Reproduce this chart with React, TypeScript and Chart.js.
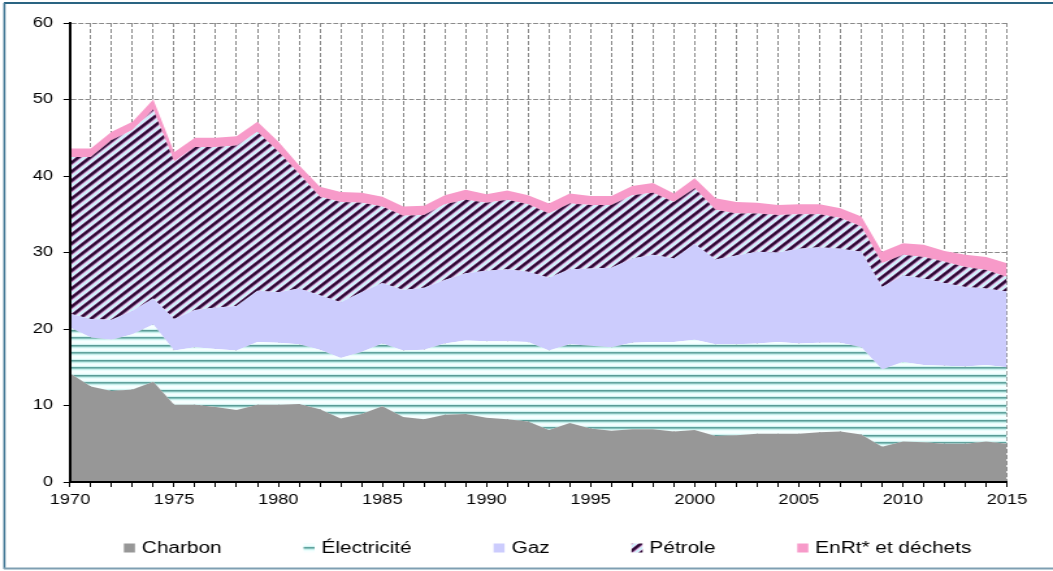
import React, { useEffect, useRef } from "react";
import { Chart, registerables } from "chart.js";

Chart.register(...registerables);

// ---------- data ----------
const years = [
  "1970","1971","1972","1973","1974","1975","1976","1977","1978","1979",
  "1980","1981","1982","1983","1984","1985","1986","1987","1988","1989",
  "1990","1991","1992","1993","1994","1995","1996","1997","1998","1999",
  "2000","2001","2002","2003","2004","2005","2006","2007","2008","2009",
  "2010","2011","2012","2013","2014","2015",
];

const charbon = [
  14.2, 12.5, 11.9, 12.1, 13.1, 10.1, 10.1, 9.8, 9.4, 10.1,
  10.1, 10.2, 9.5, 8.3, 8.9, 9.9, 8.5, 8.2, 8.8, 8.9,
  8.4, 8.2, 7.9, 6.8, 7.7, 7.0, 6.7, 6.9, 6.9, 6.6,
  6.8, 6.0, 6.1, 6.3, 6.3, 6.3, 6.5, 6.6, 6.2, 4.6,
  5.3, 5.2, 5.0, 5.0, 5.3, 5.0,
];

const electricite = [
  6.0, 6.4, 6.7, 7.2, 7.5, 7.1, 7.5, 7.6, 7.8, 8.2,
  8.1, 7.8, 7.8, 7.9, 8.1, 8.2, 8.7, 9.1, 9.3, 9.6,
  10.0, 10.2, 10.4, 10.4, 10.3, 10.8, 10.9, 11.3, 11.4, 11.7,
  11.8, 12.0, 11.9, 11.8, 12.0, 11.8, 11.7, 11.6, 11.4, 10.1,
  10.4, 10.1, 10.2, 10.1, 10.0, 10.0,
];

const gaz = [
  1.8, 2.4, 2.6, 3.1, 3.4, 4.1, 4.9, 5.4, 5.8, 6.7,
  6.6, 7.3, 7.1, 7.3, 7.8, 7.9, 7.9, 8.1, 8.3, 8.8,
  9.2, 9.4, 9.2, 9.5, 9.8, 10.1, 10.4, 11.0, 11.4, 10.9,
  12.5, 11.1, 11.6, 12.0, 11.7, 12.4, 12.5, 12.3, 12.5, 10.8,
  11.3, 11.3, 10.8, 10.4, 10.0, 9.9,
];

const petrole = [
  20.5, 21.2, 23.5, 23.6, 24.7, 20.6, 21.3, 21.0, 21.0, 20.8,
  18.4, 15.0, 12.9, 13.1, 11.7, 10.0, 9.7, 9.5, 9.9, 9.6,
  8.9, 9.1, 8.8, 8.4, 8.6, 8.3, 8.2, 8.3, 8.1, 7.4,
  7.3, 6.5, 5.5, 5.0, 4.9, 4.5, 4.3, 4.0, 3.3, 3.1,
  2.7, 2.8, 2.8, 2.6, 2.4, 1.9,
];

const enrt = [
  1.1, 1.1, 1.1, 1.1, 1.3, 1.2, 1.2, 1.2, 1.2, 1.3,
  1.3, 1.1, 1.3, 1.3, 1.3, 1.3, 1.2, 1.2, 1.2, 1.3,
  1.1, 1.2, 1.2, 1.3, 1.3, 1.2, 1.2, 1.2, 1.3, 1.1,
  1.3, 1.5, 1.5, 1.4, 1.3, 1.3, 1.3, 1.3, 1.3, 1.5,
  1.5, 1.6, 1.4, 1.6, 1.7, 1.8,
];

const seriesNames = ["Charbon", "Électricité", "Gaz", "Pétrole", "EnRt* et déchets"];
const yMin = 0;
const yMax = 60;
const yStep = 10;
const labelEvery = 5;

// ---------- layout ----------
const W = 1053;
const H = 571;
const STRETCH = 1.3;
const IW = Math.round(W / STRETCH); // internal canvas width
const FONT = '"Liberation Sans", Arial, Helvetica, sans-serif';

function makePattern(
  ctx: CanvasRenderingContext2D,
  w: number,
  h: number,
  fn: (x: number, y: number) => number[]
): CanvasPattern | string {
  const c = document.createElement("canvas");
  c.width = w;
  c.height = h;
  const cx = c.getContext("2d");
  if (!cx) return "#ccc";
  const img = cx.createImageData(w, h);
  for (let y = 0; y < h; y++) {
    for (let x = 0; x < w; x++) {
      const [r, g, b] = fn(x, y);
      const i = (y * w + x) * 4;
      img.data[i] = r;
      img.data[i + 1] = g;
      img.data[i + 2] = b;
      img.data[i + 3] = 255;
    }
  }
  cx.putImageData(img, 0, 0);
  return ctx.createPattern(c, "repeat") || "#ccc";
}

const elecRows: number[][] = [
  [90, 155, 150],
  [135, 193, 188],
  [200, 238, 235],
  [233, 253, 252],
  [247, 255, 255],
  [240, 254, 254],
  [211, 243, 241],
  [96, 162, 157],
  [135, 193, 188],
  [200, 238, 235],
  [233, 253, 252],
  [247, 255, 255],
  [247, 255, 255],
  [240, 254, 254],
  [211, 243, 241],
];

const petRows: number[][] = [
  [42, 8, 48],
  [48, 12, 54],
  [78, 34, 84],
  [170, 130, 178],
  [230, 206, 238],
  [205, 242, 252],
  [205, 242, 252],
  [220, 226, 247],
  [118, 76, 126],
];

export default function App() {
  const ref = useRef<HTMLCanvasElement>(null);

  useEffect(() => {
    const canvas = ref.current;
    if (!canvas) return;
    const ctx = canvas.getContext("2d");
    if (!ctx) return;

    const P = petRows.length;
    const elecPat = makePattern(ctx, 1, elecRows.length, (_x, y) => elecRows[y]);
    const petPat = makePattern(ctx, P, P, (x, y) => petRows[(x + y) % P]);
    const colors: (string | CanvasPattern)[] = ["#979797", elecPat, "#ccccfd", petPat, "#f79ac9"];
    const values = [charbon, electricite, gaz, petrole, enrt];

    const framePlugin = {
      id: "frame",
      afterDraw(chart: any) {
        const c = chart.ctx as CanvasRenderingContext2D;
        c.save();
        // outer frame
        c.lineWidth = 2;
        c.strokeStyle = "#2a6482";
        c.beginPath();
        c.moveTo(3, 3);
        c.lineTo(IW, 3);
        c.stroke();
        c.lineWidth = 1.6;
        c.strokeStyle = "#3f7593";
        c.beginPath();
        c.moveTo(3.4, 3);
        c.lineTo(3.4, 569);
        c.stroke();
        c.lineWidth = 2;
        c.strokeStyle = "#7f9fb2";
        c.beginPath();
        c.moveTo(3, 568.5);
        c.lineTo(IW, 568.5);
        c.stroke();

        // legend
        const area = chart.chartArea;
        c.font = `16px ${FONT}`;
        c.textBaseline = "middle";
        c.textAlign = "left";
        const box = 8.5;
        const gap = 13.8;
        const pad = 63;
        const widths = seriesNames.map((n) => c.measureText(n).width);
        const total =
          widths.reduce((a, w) => a + gap + w, 0) + pad * (seriesNames.length - 1);
        const cy = 548;
        let x = (area.left + area.right) / 2 + 7 - total / 2;
        seriesNames.forEach((n, i) => {
          c.fillStyle = colors[i] as any;
          c.fillRect(x, cy - 4.5, box, 9);
          c.fillStyle = "#000";
          c.fillText(n, x + gap, cy + 0.5);
          x += gap + widths[i] + pad;
        });
        c.restore();
      },
    };

    const chart = new Chart(canvas, {
      type: "line",
      data: {
        labels: years,
        datasets: seriesNames.map((name, i) => ({
          label: name,
          data: values[i],
          backgroundColor: colors[i] as any,
          borderColor: "rgba(0,0,0,0)",
          borderWidth: 0,
          pointRadius: 0,
          pointHoverRadius: 0,
          tension: 0,
          fill: i === 0 ? "origin" : "-1",
        })),
      },
      options: {
        responsive: false,
        animation: false,
        devicePixelRatio: 1,
        events: [],
        layout: {
          padding: { left: 0, right: IW - 1007 / STRETCH, top: 23, bottom: H - 482 - 30 },
        },
        plugins: {
          legend: { display: false },
          tooltip: { enabled: false },
          title: { display: false },
        },
        scales: {
          x: {
            type: "category",
            offset: false,
            grid: {
              color: "#8a8a8a",
              lineWidth: 1,
              drawTicks: true,
              tickLength: 5,
              tickColor: "#000",
              tickWidth: 1,
            },
            border: { display: true, color: "#000", width: 2, dash: [4, 2], z: 1 },
            ticks: {
              autoSkip: false,
              maxRotation: 0,
              minRotation: 0,
              padding: 5,
              color: "#000",
              font: { family: FONT, size: 14 },
              callback: (_v: any, i: number) =>
                Number(years[i]) % labelEvery === 0 ? years[i] : "",
            },
            afterFit: (s: any) => {
              s.height = 30;
            },
          },
          y: {
            stacked: true,
            min: yMin,
            max: yMax,
            grid: {
              color: "#8a8a8a",
              lineWidth: 1,
              drawTicks: true,
              tickLength: 5,
              tickColor: "#000",
              tickWidth: 1,
            },
            border: { display: true, color: "#000", width: 2, dash: [3.8, 1.5], z: 1 },
            ticks: {
              stepSize: yStep,
              padding: 8,
              color: "#000",
              font: { family: FONT, size: 14 },
            },
            afterFit: (s: any) => {
              s.width = 70 / STRETCH;
            },
          },
        },
      } as any,
      plugins: [framePlugin],
    });

    return () => chart.destroy();
  }, []);

  return (
    <div
      style={{
        position: "fixed",
        left: 0,
        top: 0,
        width: W,
        height: H,
        background: "#fff",
        overflow: "hidden",
      }}
    >
      <canvas
        ref={ref}
        width={IW}
        height={H}
        style={{ width: `${W}px`, height: `${H}px`, display: "block" }}
      />
    </div>
  );
}
